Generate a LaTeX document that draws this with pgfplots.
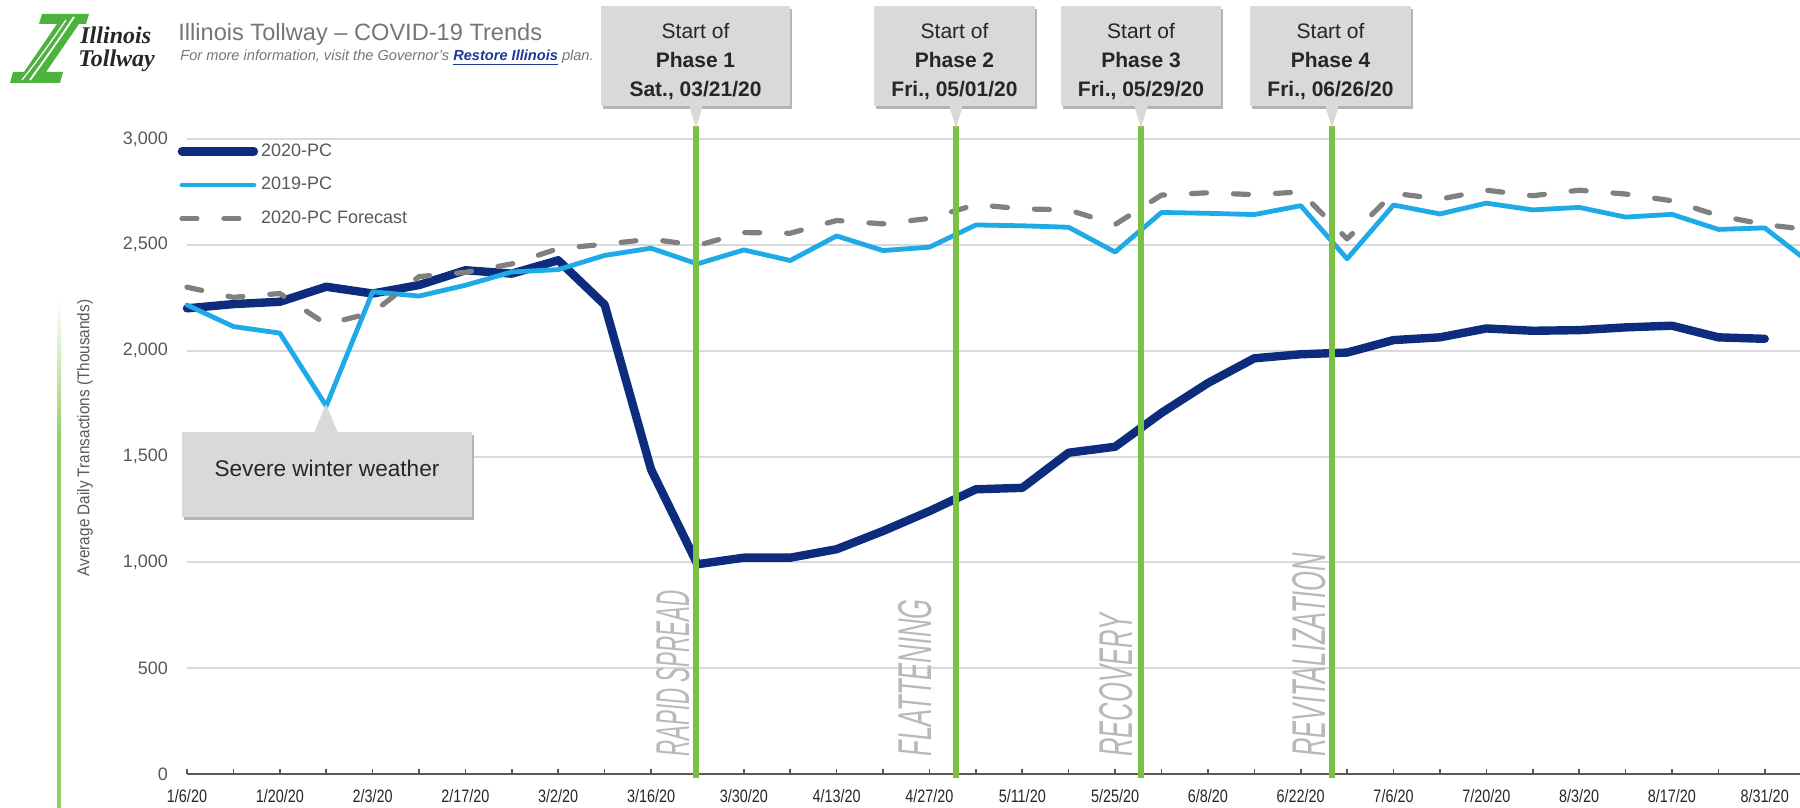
\documentclass[border=0pt]{standalone}
\usepackage{pgfplots}
\usepackage{pgfplotstable}
\pgfplotsset{compat=1.18}
\usepackage{fontspec}
\setmainfont{Liberation Sans}
\newfontfamily\logofont{Liberation Serif}
\usepackage{graphicx}

\definecolor{cNavy}{RGB}{14,44,125}
\definecolor{cSky}{RGB}{30,170,230}
\definecolor{cFc}{RGB}{128,128,128}
\definecolor{cGreen}{RGB}{122,193,67}
\definecolor{cLogo}{RGB}{78,178,62}
\definecolor{cGrid}{RGB}{217,217,217}
\definecolor{cTxt}{RGB}{89,89,89}
\definecolor{cBox}{RGB}{217,217,217}
\definecolor{cShadow}{RGB}{180,180,180}
\definecolor{cPhase}{RGB}{185,185,185}
\definecolor{cLink}{RGB}{31,58,147}
\definecolor{cDark}{RGB}{38,38,38}
\definecolor{cTitle}{RGB}{118,118,118}

\pgfplotstableread{
i  pc20  pc19  fc
0  2200  2216  2300
1  2220  2114  2252
2  2231  2083  2270
3  2302  1739  2125
4  2270  2278  2180
5  2310  2258  2350
6  2380  2309  2370
7  2364  2372  2410
8  2427  2383  2482
9  2217  2450  2503
10 1439  2484  2527
11 991   2410  2497
12 1022  2476  2558
13 1022  2426  2555
14 1062  2542  2615
15 1148  2473  2599
16 1242  2489  2625
17 1345  2594  2690
18 1352  2590  2670
19 1518  2583  2665
20 1546  2466  2596
21 1706  2653  2735
22 1847  2649  2746
23 1964  2643  2737
24 1983  2685  2750
25 1991  2434  2528
26 2050  2688  2744
27 2063  2646  2716
28 2105  2697  2758
29 2094  2665  2732
30 2097  2677  2758
31 2110  2631  2740
32 2118  2644  2708
33 2063  2573  2638
34 2056  2580  2596
35 nan   2410  2570
}\trend

\newcommand\xl[1]{\scalebox{0.8}[1]{#1}}

\begin{document}
\begin{tikzpicture}
\useasboundingbox (0pt,0pt) rectangle (900pt,-404pt);
\clip (0pt,0pt) rectangle (900pt,-404pt);
\fill[white] (0pt,0pt) rectangle (900pt,-404pt);
\begin{axis}[
  at={(93.5pt,-387pt)}, anchor=south west,
  scale only axis, width=806.5pt, height=317.5pt,
  xmin=0, xmax=34.76, ymin=0, ymax=3000,
  clip=false,
  axis x line*=bottom, axis y line*=left,
  x axis line style={-, draw=cTxt, line width=1pt},
  y axis line style={draw=none},
  ytick={0,500,...,3000},
  ymajorgrids, grid style={cGrid, line width=1pt},
  ytick style={draw=none},
  xtick={0,2,...,34},
  minor xtick={1,3,...,35},
  xticklabels={\xl{1/6/20},\xl{1/20/20},\xl{2/3/20},\xl{2/17/20},\xl{3/2/20},\xl{3/16/20},\xl{3/30/20},\xl{4/13/20},\xl{4/27/20},\xl{5/11/20},\xl{5/25/20},\xl{6/8/20},\xl{6/22/20},\xl{7/6/20},\xl{7/20/20},\xl{8/3/20},\xl{8/17/20},\xl{8/31/20}},
  tick align=inside,
  major tick length=2.6pt, minor tick length=2.6pt,
  xtick style={draw=cTxt, line width=0.8pt},
  minor tick style={draw=cTxt, line width=0.8pt},
  yticklabel style={font=\fontsize{9}{10}\selectfont, text=cTxt, xshift=-6pt},
  xticklabel style={font=\fontsize{9}{10}\selectfont, text=cDark, yshift=-4pt},
  /pgf/number format/1000 sep={,},
  /pgf/number format/assume math mode=true,
  legend cell align=left,
  legend style={at={(axis description cs:-0.006,0.998)}, anchor=north west, draw=none, fill=none,
    font=\fontsize{9}{10}\selectfont, text=cTxt, row sep=6pt, inner sep=0pt, nodes={inner sep=1.5pt}},
  legend image code/.code={\draw[#1] (0pt,0pt) -- (36pt,0pt);},
]
\addplot[cNavy, line width=4.2pt, line join=round, line cap=round] table[x=i,y=pc20]{\trend};
\addlegendentry{2020-PC}
\addplot[cSky, line width=2.4pt, line join=round, line cap=round] table[x=i,y=pc19]{\trend};
\addlegendentry{2019-PC}
\addplot[cFc, line width=2.6pt, line join=round, line cap=round, dash pattern=on 7.5pt off 13.5pt] table[x=i,y=fc]{\trend};
\addlegendentry{2020-PC Forecast}
\end{axis}

\begin{scope}[x=0.5pt,y=-0.5pt]
% left green bar
\shade[top color=white, bottom color=cGreen!80] (57,300) rectangle (61,440);
\fill[cGreen!80] (57,439) rectangle (61,808);
% y label
\node[rotate=90, text=cTxt, font=\fontsize{8.5}{10}\selectfont] at (85,438) {\scalebox{0.9}[1]{Average Daily Transactions (Thousands)}};

% logo
\fill[cLogo] (42,14) -- (89,14) -- (86,24) -- (79,24) -- (46,72) -- (63,72) -- (60,83) -- (10,83) -- (13,72) -- (24,72) -- (57,24) -- (39,24) -- cycle;
\draw[white, line width=0.9pt] (74,17) .. controls (60,38) and (48,55) .. (30,80);
\draw[white, line width=0.6pt] (66,20) .. controls (55,36) and (42,55) .. (22,80);
\node[anchor=base west, inner sep=0pt, text=cDark, font=\logofont\bfseries\itshape\fontsize{12}{12}\selectfont] at (80,44) {Illinois};
\node[anchor=base west, inner sep=0pt, text=cDark, font=\logofont\bfseries\itshape\fontsize{12}{12}\selectfont] at (78,67) {Tollway};

% title
\node[anchor=base west, inner sep=0pt, text=cTitle, font=\fontsize{11.8}{13}\selectfont] at (178,41) {Illinois Tollway -- COVID-19 Trends};
\node[anchor=base west, inner sep=0pt, text=cTitle, font=\itshape\fontsize{7.3}{8}\selectfont] at (180,61) {For more information, visit the Governor's {\color{cLink}\bfseries\underline{Restore Illinois}} plan.};

% green phase lines
\foreach \gx in {696,956,1141,1332} {\draw[cGreen, line width=3pt] (\gx,126) -- (\gx,778);}

% phase labels
\foreach \gx/\sc/\txt in {689/0.47/RAPID SPREAD, 931/0.54/FLATTENING, 1132/0.54/RECOVERY, 1325/0.54/REVITALIZATION} {
  \node[rotate=90, anchor=base west, inner sep=0pt, text=cPhase, font=\itshape\fontsize{23.7}{24}\selectfont] at (\gx,757) {\scalebox{\sc}[1]{\txt}};
}

% callouts
\foreach \xa/\xb/\gx/\ph/\dt in {601/790/696/1/{Sat., 03/21/20}, 874/1035/956/2/{Fri., 05/01/20}, 1061/1221/1141/3/{Fri., 05/29/20}, 1250/1411/1332/4/{Fri., 06/26/20}} {
  \fill[cShadow] (\xa+2,9) rectangle (\xb+2,109);
  \fill[cBox] (\xa,6) rectangle (\xb,106);
  \fill[cBox] (\gx-7,105) -- (\gx+7,105) -- (\gx,128) -- cycle;
  \node[align=center, text=cDark, font=\fontsize{10.5}{14.5}\selectfont] at ({(\xa+\xb)/2},62) {Start of\\\textbf{Phase \ph}\\\textbf{\dt}};
}

% severe winter weather
\fill[cShadow] (184,435) rectangle (474,520);
\fill[cBox] (182,432) rectangle (472,517);
\fill[cBox] (314,433) -- (338,433) -- (326,404) -- cycle;
\node[text=cDark, font=\fontsize{11.3}{13}\selectfont] at (327,468) {Severe winter weather};
\end{scope}
\end{tikzpicture}
\end{document}
